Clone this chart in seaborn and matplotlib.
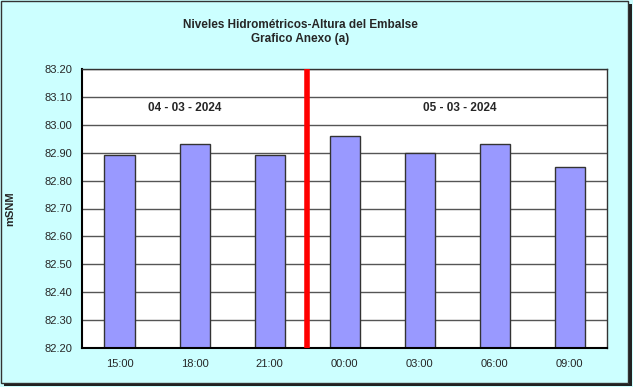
import matplotlib
matplotlib.use("Agg")
import matplotlib.pyplot as plt
import seaborn as sns
import pandas as pd
from matplotlib.patches import Rectangle

categories = ["15:00", "18:00", "21:00", "00:00", "03:00", "06:00", "09:00"]
values = [82.89, 82.93, 82.89, 82.96, 82.90, 82.93, 82.85]
y_ticks = [82.20, 82.30, 82.40, 82.50, 82.60, 82.70, 82.80, 82.90, 83.00, 83.10, 83.20]
date_labels = ["04 - 03 - 2024", "05 - 03 - 2024"]
title = "Niveles Hidrométricos-Altura del Embalse\nGrafico Anexo (a)"
ylabel = "mSNM"

sns.set_theme(style="white")
plt.rcParams['font.family'] = ['Liberation Sans', 'DejaVu Sans']

df = pd.DataFrame({"hora": categories, "nivel": values})

fig = plt.figure(figsize=(6.33, 3.87), dpi=100, facecolor="#CCFFFF")
ax = fig.add_axes([82/633, 1 - 348/387, 525/633, 279/387])
ax.set_facecolor("white")

sns.barplot(data=df, x="hora", y="nivel", ax=ax, color="#9999FF",
            saturation=1, width=0.4, edgecolor="#333333", linewidth=1)
ax.set_ylim(y_ticks[0], y_ticks[-1])
ax.set_xlim(-0.5, len(categories) - 0.5)
ax.set_yticks(y_ticks)
ax.set_yticklabels([f"{v:.2f}" for v in y_ticks], fontsize=8)
ax.set_xticks(range(len(categories)))
ax.set_xticklabels(categories, fontsize=8)
ax.tick_params(axis="x", length=0, pad=8)
ax.tick_params(axis="y", length=4, width=1, color="black", direction="out", pad=3)
ax.yaxis.grid(True, color="#555555", linewidth=1)
ax.set_axisbelow(True)
ax.set_xticks([i + 0.5 for i in range(-1, len(categories))], minor=True)
ax.tick_params(axis="x", which="minor", length=4, width=1, color="#333333", direction="out")
for side in ["left", "bottom"]:
    ax.spines[side].set_color("black")
    ax.spines[side].set_linewidth(1.5)
for side in ["top", "right"]:
    ax.spines[side].set_color("#333333")
    ax.spines[side].set_linewidth(1)
ax.set_xlabel("")
ax.set_ylabel(ylabel, fontsize=8, fontweight="bold")
ax.yaxis.set_label_coords(-0.128, 0.5)

ax.axvline(2.5, color="#FF0000", linewidth=4, zorder=5)

ax.text(0.87, 83.06, date_labels[0], ha="center", va="center", fontsize=8.5, fontweight="bold")
ax.text(4.54, 83.06, date_labels[1], ha="center", va="center", fontsize=8.5, fontweight="bold")

fig.text(300/633, 1 - 32/387, title, ha="center", va="center", fontsize=8.5,
         fontweight="bold", linespacing=1.2)

fig.patches.append(Rectangle((1/633, 4/387), 627/633, 382/387, transform=fig.transFigure,
                             fill=False, edgecolor="#333333", linewidth=1))
fig.patches.append(Rectangle((4/633, 1/387), 628/633, 2/387, transform=fig.transFigure,
                             facecolor="#222222", edgecolor="none"))
fig.patches.append(Rectangle((629/633, 1/387), 3/633, 382/387, transform=fig.transFigure,
                             facecolor="#222222", edgecolor="none"))

fig.savefig("out.png", dpi=100, facecolor=fig.get_facecolor())
